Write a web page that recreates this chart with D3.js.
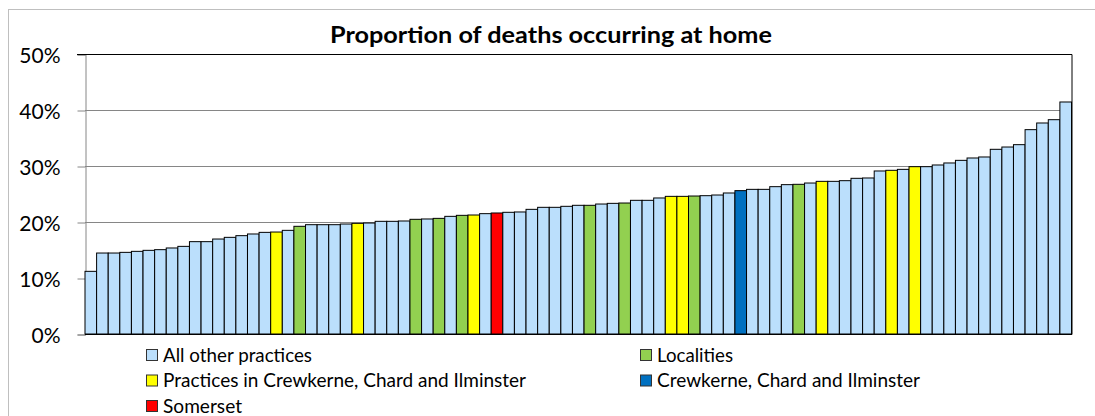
<!DOCTYPE html>
<html>
<head>
<meta charset="utf-8">
<script src="https://cdn.jsdelivr.net/npm/d3@7"></script>
<style>
  body { margin: 0; background: #fff; }
  text { font-family: Lato, "Open Sans", sans-serif; fill: #000; }
</style>
</head>
<body>
<div id="chart"></div>
<script>
// share of deaths at home (%), one bar per practice, sorted ascending
var values = [11.19,14.46,14.46,14.58,14.76,14.94,15.06,15.36,15.65,16.49,
              16.49,16.96,17.26,17.56,17.86,18.15,18.21,18.51,19.23,19.52,
              19.52,19.52,19.64,19.76,19.82,20.12,20.12,20.18,20.48,20.54,
              20.65,21.01,21.19,21.25,21.49,21.61,21.73,21.79,22.26,22.62,
              22.62,22.80,22.98,22.98,23.21,23.33,23.39,23.87,23.87,24.29,
              24.58,24.58,24.64,24.70,24.82,25.18,25.60,25.83,25.83,26.31,
              26.67,26.73,26.96,27.26,27.26,27.38,27.80,27.86,29.11,29.23,
              29.40,29.88,29.88,30.18,30.54,31.01,31.43,31.61,32.98,33.39,
              33.81,36.49,37.68,38.27,41.43];
// rank positions (1-based) of the highlighted bars
var localityBars = [19, 29, 31, 33, 44, 47, 53, 62];
var practiceBars = [17, 24, 34, 51, 52, 64, 70, 72];
var cciBars = [57];
var somersetBars = [36];

var groupNames = { o: "All other practices", l: "Localities", p: "Practices in Crewkerne, Chard and Ilminster",
                   c: "Crewkerne, Chard and Ilminster", s: "Somerset" };
var legendOrder = ["o", "l", "p", "c", "s"];
var yTicks = [0, 0.1, 0.2, 0.3, 0.4, 0.5];

var colors = { o: "#BBDFFC", l: "#92D050", p: "#FFFF00", c: "#0070C0", s: "#FF0000" };

var groups = values.map(function(v, i) {
  var n = i + 1;
  if (localityBars.indexOf(n) >= 0) return "l";
  if (practiceBars.indexOf(n) >= 0) return "p";
  if (cciBars.indexOf(n) >= 0) return "c";
  if (somersetBars.indexOf(n) >= 0) return "s";
  return "o";
});

var width = 1095, height = 416,
    plot = { left: 85, right: 1071.5, top: 54, bottom: 334 };

var svg = d3.select("#chart").append("svg")
    .attr("width", width)
    .attr("height", height);

// outer chart frame
svg.append("rect")
    .attr("x", 8.5).attr("y", 9.5)
    .attr("width", width + 20).attr("height", height + 20)
    .attr("fill", "#fff").attr("stroke", "#BFBFBF");

var x = d3.scaleBand()
    .domain(d3.range(values.length))
    .range([plot.left, plot.right])
    .paddingInner(0).paddingOuter(0);

var y = d3.scaleLinear().domain([0, 0.5]).range([plot.bottom, plot.top]);

// gridlines
svg.append("g").selectAll("line")
    .data(yTicks.slice(1, -1))
    .enter().append("line")
    .attr("x1", plot.left).attr("x2", plot.right)
    .attr("y1", function(d) { return Math.round(y(d)) + 0.5; })
    .attr("y2", function(d) { return Math.round(y(d)) + 0.5; })
    .attr("stroke", "#868686");

// y axis
var yAxis = svg.append("g")
    .attr("transform", "translate(" + (plot.left + 0.5) + ",0.5)")
    .call(d3.axisLeft(y).tickValues(yTicks).tickFormat(d3.format(".0%")).tickSize(8).tickPadding(17));
yAxis.select(".domain").attr("stroke", "#868686");
yAxis.selectAll(".tick line").attr("stroke", "#868686");
yAxis.selectAll(".tick text")
    .style("font-size", "21px")
    .attr("dy", "0.36em");

// plot frame top/right
svg.append("path")
    .attr("d", "M" + (plot.left - 8) + "," + (plot.top + 0.5) + "H" + (plot.right + 0.5) + "V" + (plot.bottom + 0.5))
    .attr("fill", "none").attr("stroke", "#000");

// bars
svg.append("g").selectAll("rect")
    .data(values)
    .enter().append("rect")
    .attr("x", function(d, i) { return x(i); })
    .attr("y", function(d) { return y(d / 100); })
    .attr("width", x.bandwidth())
    .attr("height", function(d) { return y(0) - y(d / 100); })
    .attr("fill", function(d, i) { return colors[groups[i]]; })
    .attr("stroke", "#000")
    .attr("stroke-width", 1);

// x axis baseline
svg.append("line")
    .attr("x1", plot.left).attr("x2", plot.right + 0.5)
    .attr("y1", plot.bottom + 0.5).attr("y2", plot.bottom + 0.5)
    .attr("stroke", "#000");

// title
svg.append("text")
    .attr("x", 330).attr("y", 43)
    .attr("textLength", 442).attr("lengthAdjust", "spacingAndGlyphs")
    .style("font-size", "22px").style("font-weight", "bold")
    .text("Proportion of deaths occurring at home");

// legend
var legendPos = {
  o: [146, 355, 149], l: [640, 355, 76],
  p: [146, 380.5, 363], c: [640, 380.5, 263],
  s: [146, 406, 79]
};
var legend = svg.append("g").selectAll("g")
    .data(legendOrder)
    .enter().append("g")
    .attr("transform", function(d) { return "translate(" + legendPos[d][0] + "," + legendPos[d][1] + ")"; });

legend.append("rect")
    .attr("x", 0.5).attr("y", -5.5)
    .attr("width", 11).attr("height", 11)
    .attr("fill", function(d) { return colors[d]; })
    .attr("stroke", "#333");

legend.append("text")
    .attr("x", 17).attr("y", 6.5)
    .attr("textLength", function(d) { return legendPos[d][2]; })
    .attr("lengthAdjust", "spacingAndGlyphs")
    .style("font-size", "19px")
    .text(function(d) { return groupNames[d]; });
</script>
</body>
</html>
